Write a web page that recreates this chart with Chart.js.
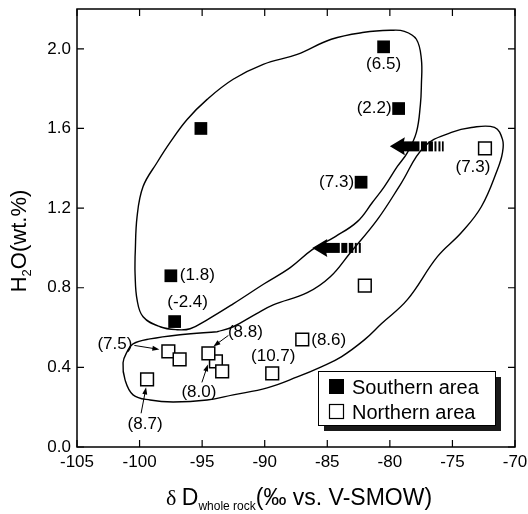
<!DOCTYPE html>
<html lang="en">
<head>
<meta charset="UTF-8">
<title>H2O vs dD whole rock</title>
<script src="https://cdn.jsdelivr.net/npm/chart.js"></script>
<style>
  html, body { margin: 0; padding: 0; background: #fff; }
</style>
</head>
<body>
<canvas id="chart" width="528" height="514"></canvas>
<script>
// tick labels
const xTickValues = [-105, -100, -95, -90, -85, -80, -75, -70];
const yTickValues = [0.0, 0.4, 0.8, 1.2, 1.6, 2.0];

// Southern area (filled squares), value in brackets shown next to the sample
const southernD = [-80.5, -79.3, -82.3, -95.1, -97.5, -97.2];
const southernH2O = [2.01, 1.70, 1.33, 1.60, 0.86, 0.63];
const southernNote = ['(6.5)', '(2.2)', '(7.3)', '', '(1.8)', '(-2.4)'];

// Northern area (open squares)
const northernD = [-72.4, -82.0, -87.0, -89.4, -97.7, -96.8, -93.9, -94.5, -93.4, -99.4];
const northernH2O = [1.50, 0.81, 0.54, 0.37, 0.48, 0.44, 0.43, 0.47, 0.38, 0.34];
const northernNote = ['(7.3)', '', '(8.6)', '(10.7)', '(7.5)', '', '(8.0)', '(8.8)', '', '(8.7)'];

// shifted southern samples (thick arrows)
const shiftH2O = [1.51, 1.00];
const shiftFromD = [-75.7, -82.2];
const shiftToD = [-80.0, -86.2];

// hand drawn outlines round the two groups, [dD, H2O]
const southernOutline = [
  [-100.36, 0.956], [-100.2, 1.157], [-99.72, 1.308], [-98.6, 1.429], [-97.56, 1.530],
  [-96.2, 1.645], [-94.6, 1.746], [-92.52, 1.847], [-90.12, 1.922], [-87.4, 1.972],
  [-84.68, 2.048], [-82.04, 2.083], [-79.96, 2.093], [-78.84, 2.088], [-77.88, 2.048],
  [-77.48, 1.947], [-77.48, 1.821], [-77.56, 1.720], [-77.88, 1.580], [-78.6, 1.479],
  [-79.4, 1.409], [-80.44, 1.308], [-81.4, 1.228], [-82.6, 1.132], [-84.36, 1.057],
  [-86.2, 0.991], [-87.96, 0.901], [-90.04, 0.820], [-92.52, 0.719], [-94.6, 0.639],
  [-95.96, 0.594], [-97.0, 0.589], [-98.36, 0.604], [-99.72, 0.654], [-100.2, 0.740],
  [-100.36, 0.870]
];
const northernOutline = [
  [-93.8, 0.579], [-92.52, 0.604], [-90.68, 0.669], [-89.32, 0.714], [-86.6, 0.775],
  [-84.76, 0.855], [-83.16, 0.976], [-81.0, 1.142], [-79.16, 1.318], [-77.24, 1.509],
  [-75.08, 1.580], [-73.48, 1.605], [-71.64, 1.605], [-71.0, 1.545], [-71.0, 1.479],
  [-71.4, 1.394], [-72.68, 1.208], [-74.28, 1.077], [-76.2, 0.956], [-78.6, 0.740],
  [-80.68, 0.619], [-82.04, 0.538], [-83.88, 0.453], [-85.48, 0.403], [-87.4, 0.352],
  [-89.8, 0.297], [-92.52, 0.262], [-94.6, 0.236], [-97.32, 0.226], [-99.16, 0.236],
  [-100.52, 0.262], [-101.16, 0.337], [-101.32, 0.423], [-101.0, 0.478], [-100.52, 0.518],
  [-99.16, 0.543], [-96.76, 0.564]
];

const SANS = '"Liberation Sans", Arial, Helvetica, sans-serif';

function toPoints(xs, ys) {
  return xs.map((x, i) => ({ x: x, y: ys[i] }));
}
function closed(pts) {
  const p = pts.map(a => ({ x: a[0], y: a[1] }));
  p.push(p[0]);
  return p;
}

function thinArrow(ctx, x1, y1, x2, y2) {
  const a = Math.atan2(y2 - y1, x2 - x1);
  ctx.lineWidth = 1;
  ctx.beginPath();
  ctx.moveTo(x1, y1);
  ctx.lineTo(x2 - 4 * Math.cos(a), y2 - 4 * Math.sin(a));
  ctx.stroke();
  ctx.beginPath();
  ctx.moveTo(x2, y2);
  ctx.lineTo(x2 - 7 * Math.cos(a) + 2.5 * Math.sin(a), y2 - 7 * Math.sin(a) - 2.5 * Math.cos(a));
  ctx.lineTo(x2 - 7 * Math.cos(a) - 2.5 * Math.sin(a), y2 - 7 * Math.sin(a) + 2.5 * Math.cos(a));
  ctx.closePath();
  ctx.fill();
}

// labels in brackets + little pointer arrows
const notesPlugin = {
  id: 'notes',
  afterDatasetsDraw(chart, args, opts) {
    const ctx = chart.ctx;
    ctx.save();
    ctx.font = '17px ' + SANS;
    ctx.fillStyle = '#000';
    ctx.strokeStyle = '#000';
    ctx.textBaseline = 'middle';
    opts.sets.forEach(set => {
      const meta = chart.getDatasetMeta(set.dataset);
      set.notes.forEach((txt, i) => {
        const pl = set.place[i];
        if (!txt || !pl) return;
        const p = meta.data[i];
        ctx.textAlign = pl.align || 'center';
        ctx.fillText(txt, p.x + pl.dx, p.y + pl.dy);
        if (pl.arrow) {
          thinArrow(ctx, p.x + pl.arrow[0], p.y + pl.arrow[1], p.x + pl.arrow[2], p.y + pl.arrow[3]);
        }
      });
    });
    ctx.restore();
  }
};

// thick left arrows with broken tail
const shiftPlugin = {
  id: 'shift',
  afterDatasetsDraw(chart) {
    const ctx = chart.ctx, xs = chart.scales.x, ys = chart.scales.y;
    ctx.save();
    ctx.fillStyle = '#000';
    shiftH2O.forEach((h, i) => {
      const y = ys.getPixelForValue(h);
      const tip = xs.getPixelForValue(shiftToD[i]);
      const tail = xs.getPixelForValue(shiftFromD[i]);
      const head = 15, half = 9, sh = 5;
      ctx.beginPath();
      ctx.moveTo(tip, y);
      ctx.lineTo(tip + head, y - half);
      ctx.lineTo(tip + head - 2, y);
      ctx.lineTo(tip + head, y + half);
      ctx.closePath();
      ctx.fill();
      const solidEnd = tip + (tail - tip) * 0.55;
      ctx.fillRect(tip + head - 4, y - sh, solidEnd - (tip + head - 4), 2 * sh);
      const pieces = [1.5, 6, 1.5, 4.5, 1.5, 2, 2, 2, 1.5, 2];
      let x = solidEnd;
      for (let k = 0; k < pieces.length && x < tail; k++) {
        const w = Math.min(pieces[k], tail - x);
        if (k % 2 === 1) ctx.fillRect(x, y - sh, w, 2 * sh);
        x += w;
      }
    });
    ctx.restore();
  }
};

// frame with inward ticks on all sides, axis titles, legend box
const framePlugin = {
  id: 'frame',
  afterDraw(chart) {
    const ctx = chart.ctx, a = chart.chartArea;
    const xs = chart.scales.x, ys = chart.scales.y;
    ctx.save();
    ctx.strokeStyle = '#000';
    ctx.lineWidth = 1.5;
    ctx.strokeRect(a.left, a.top, a.right - a.left, a.bottom - a.top);
    ctx.lineWidth = 1.2;
    ctx.beginPath();
    xs.ticks.forEach(t => {
      const px = xs.getPixelForValue(t.value);
      ctx.moveTo(px, a.bottom); ctx.lineTo(px, a.bottom - 7);
      ctx.moveTo(px, a.top); ctx.lineTo(px, a.top + 7);
    });
    ys.ticks.forEach(t => {
      const py = ys.getPixelForValue(t.value);
      ctx.moveTo(a.left, py); ctx.lineTo(a.left + 7, py);
      ctx.moveTo(a.right, py); ctx.lineTo(a.right - 7, py);
    });
    ctx.stroke();

    // axis titles
    ctx.fillStyle = '#000';
    ctx.textBaseline = 'alphabetic';
    ctx.textAlign = 'left';
    const drawRun = (parts, cx, base) => {
      let w = 0;
      parts.forEach(p => { ctx.font = p.font; w += ctx.measureText(p.t).width; });
      let x = cx - w / 2;
      parts.forEach(p => {
        ctx.font = p.font;
        ctx.fillText(p.t, x, base + (p.dy || 0));
        x += ctx.measureText(p.t).width;
      });
    };
    drawRun([
      { t: 'δ ', font: '22px "Liberation Serif", "Times New Roman", serif' },
      { t: 'D', font: '23px ' + SANS },
      { t: 'whole rock', font: '12px ' + SANS, dy: 5 },
      { t: '(‰ vs. V-SMOW)', font: '23px ' + SANS }
    ], 299, 505);

    ctx.save();
    ctx.translate(26, 241);
    ctx.rotate(-Math.PI / 2);
    drawRun([
      { t: 'H', font: '22px ' + SANS },
      { t: '2', font: '13px ' + SANS, dy: 5 },
      { t: 'O(wt.%)', font: '22px ' + SANS }
    ], 0, 0);
    ctx.restore();

    // legend
    const L = { x: 318, y: 371, w: 177, h: 54 };
    ctx.fillStyle = '#1a1a1a';
    ctx.fillRect(L.x + 6, L.y + 6, L.w, L.h);
    ctx.fillStyle = '#fff';
    ctx.fillRect(L.x, L.y, L.w, L.h);
    ctx.lineWidth = 1;
    ctx.strokeRect(L.x + 0.5, L.y + 0.5, L.w, L.h);
    ctx.font = '20px ' + SANS;
    chart.data.datasets.slice(0, 2).forEach((ds, i) => {
      const ty = L.y + 8 + i * 25;
      if (ds.pointBackgroundColor === '#000') {
        ctx.fillStyle = '#000';
        ctx.fillRect(L.x + 11, ty, 15, 15);
      } else {
        ctx.fillStyle = '#fff';
        ctx.fillRect(L.x + 11, ty, 15, 15);
        ctx.lineWidth = 1.2;
        ctx.strokeRect(L.x + 11.5, ty + 0.5, 14, 14);
      }
      ctx.fillStyle = '#000';
      ctx.fillText(ds.label, L.x + 34, ty + 15);
    });
    ctx.restore();
  }
};

const tickFont = { family: SANS, size: 17 };
// fix axis sizes and drop the automatic label overhang padding
function fitX(s) {
  s.height = 67;
  s.paddingLeft = 0; s.paddingRight = 0; s.paddingTop = 0; s.paddingBottom = 0;
}
function fitY(s) {
  s.width = 77;
  s.paddingLeft = 0; s.paddingRight = 0; s.paddingTop = 0; s.paddingBottom = 0;
}

new Chart(document.getElementById('chart'), {
  type: 'scatter',
  data: {
    datasets: [
      {
        label: 'Southern area',
        data: toPoints(southernD, southernH2O),
        pointStyle: 'rect',
        pointRadius: 9,
        pointBackgroundColor: '#000',
        pointBorderColor: '#000',
        pointBorderWidth: 0
      },
      {
        label: 'Northern area',
        data: toPoints(northernD, northernH2O),
        pointStyle: 'rect',
        pointRadius: 9,
        pointBackgroundColor: '#fff',
        pointBorderColor: '#000',
        pointBorderWidth: 1.5
      },
      {
        label: 'outline S',
        data: closed(southernOutline),
        showLine: true,
        tension: 0.4,
        pointRadius: 0,
        borderColor: '#000',
        borderWidth: 1.4,
        fill: false
      },
      {
        label: 'outline N',
        data: closed(northernOutline),
        showLine: true,
        tension: 0.4,
        pointRadius: 0,
        borderColor: '#000',
        borderWidth: 1.4,
        fill: false
      }
    ]
  },
  options: {
    responsive: false,
    animation: false,
    layout: { autoPadding: false, padding: { left: 0, right: 13, top: 9, bottom: 0 } },
    scales: {
      x: {
        type: 'linear',
        min: -105,
        max: -70,
        afterBuildTicks: s => { s.ticks = xTickValues.map(v => ({ value: v })); },
        afterFit: fitX,
        ticks: { font: tickFont, color: '#000', padding: 5, maxRotation: 0, autoSkip: false,
                 callback: v => String(v) },
        grid: { display: false, drawTicks: false },
        border: { display: false }
      },
      y: {
        type: 'linear',
        min: 0,
        max: 2.2,
        afterBuildTicks: s => { s.ticks = yTickValues.map(v => ({ value: v })); },
        afterFit: fitY,
        ticks: { font: tickFont, color: '#000', padding: 6, autoSkip: false,
                 callback: v => Number(v).toFixed(1) },
        grid: { display: false, drawTicks: false },
        border: { display: false }
      }
    },
    plugins: {
      legend: { display: false },
      tooltip: { enabled: false },
      notes: {
        sets: [
          {
            dataset: 0,
            notes: southernNote,
            place: [
              { dx: 0, dy: 17 },
              { dx: -7, dy: 0, align: 'right' },
              { dx: -7, dy: 0, align: 'right' },
              null,
              { dx: 9, dy: 0, align: 'left' },
              { dx: 13, dy: -19 }
            ]
          },
          {
            dataset: 1,
            notes: northernNote,
            place: [
              { dx: -12, dy: 19 },
              null,
              { dx: 9, dy: 1, align: 'left' },
              { dx: 1, dy: -17 },
              { dx: -36, dy: -7, align: 'right', arrow: [-34, -6, -9, -2] },
              null,
              { dx: -17, dy: 31, arrow: [-14, 21, -8, 3] },
              { dx: 37, dy: -21, arrow: [20, -18, 5, -7] },
              null,
              { dx: -2, dy: 45, arrow: [-6, 34, -1, 8] }
            ]
          }
        ]
      }
    }
  },
  plugins: [notesPlugin, shiftPlugin, framePlugin]
});
</script>
</body>
</html>
